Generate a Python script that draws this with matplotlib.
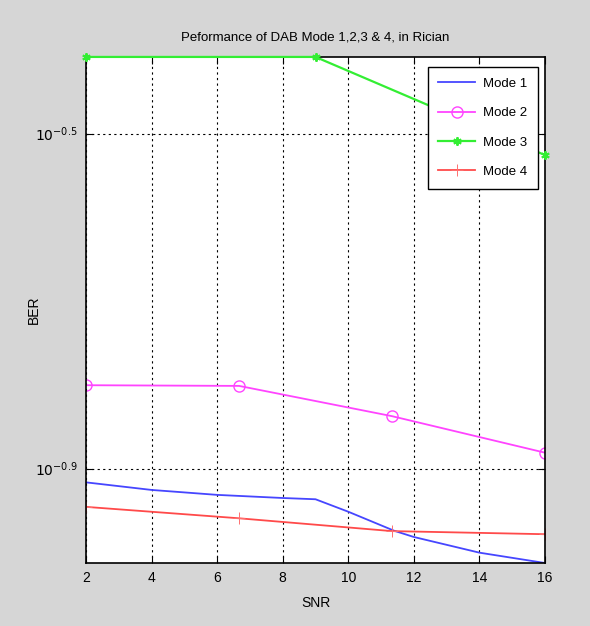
import matplotlib.pyplot as plt
import numpy as np

# data
snr_m1 = [2, 4, 6, 8, 9, 10, 11.4, 12, 14, 16]
ber_m1 = [0.1212, 0.1187, 0.1171, 0.1161, 0.1157, 0.1118, 0.1061, 0.1043, 0.0999, 0.0971]

snr_m2 = [2, 6.67, 11.33, 16]
ber_m2 = [0.1583, 0.1580, 0.1454, 0.1315]

snr_m3 = [2, 9, 16]
ber_m3 = [0.3903, 0.3903, 0.2980]

snr_m4 = [2, 6.67, 11.33, 16]
ber_m4 = [0.1133, 0.1098, 0.1060, 0.1051]

xticks = [2, 4, 6, 8, 10, 12, 14, 16]
yticks = [10 ** -0.5, 10 ** -0.9]
ytick_labels = ['$10^{-0.5}$', '$10^{-0.9}$']

plt.rcParams['font.family'] = ['Liberation Sans', 'DejaVu Sans']

fig = plt.figure(figsize=(5.9, 6.26), dpi=100)
fig.patch.set_facecolor('#d6d6d6')
ax = fig.add_axes([0.1458, 0.1006, 0.7779, 0.8083])
ax.set_facecolor('white')

ax.plot(snr_m1, ber_m1, color='#4646ff', linewidth=1.3, label='Mode 1')
ax.plot(snr_m2, ber_m2, color='#ff44ff', linewidth=1.3, marker='o',
        markersize=8, markerfacecolor='none', label='Mode 2')
# on the top edge, so draw it above the frame
ax.plot(snr_m3, ber_m3, color='#33ee33', linewidth=1.6, marker=(6, 2, 0),
        markersize=6, markeredgewidth=1.4, label='Mode 3', clip_on=False, zorder=3)
ax.plot(snr_m4, ber_m4, color='#ff4a4a', linewidth=1.3, marker='+',
        markersize=9, markeredgewidth=0.7, markeredgecolor='#ff7070', label='Mode 4')

ax.set_yscale('log')
ax.set_xlim(2, 16)
ax.set_ylim(10 ** -1.0128, 10 ** -0.4087)
ax.set_xticks(xticks)
ax.set_yticks(yticks)
ax.set_yticklabels(ytick_labels)
ax.yaxis.set_minor_locator(plt.NullLocator())

ax.tick_params(direction='in', top=True, right=True, length=5, labelsize=10, pad=6)
ax.grid(True, which='major', color='black', linestyle=(0, (2, 3)), linewidth=0.8)
for s in ax.spines.values():
    s.set_linewidth(1.2)

ax.set_title('Peformance of DAB Mode 1,2,3 & 4, in Rician', fontsize=9.5, pad=12)
ax.set_xlabel('SNR', fontsize=10, labelpad=8)
ax.set_ylabel('BER', fontsize=10, labelpad=-4)

leg = ax.legend(loc='upper right', bbox_to_anchor=(0.985, 0.98), borderaxespad=0,
                fontsize=9.5, labelspacing=1.3, handlelength=2.8, handletextpad=0.6,
                fancybox=False, edgecolor='black', framealpha=1, borderpad=0.8)
leg.get_frame().set_linewidth(1.0)
leg.set_zorder(5)

plt.savefig('out.png', dpi=100, facecolor=fig.get_facecolor())
